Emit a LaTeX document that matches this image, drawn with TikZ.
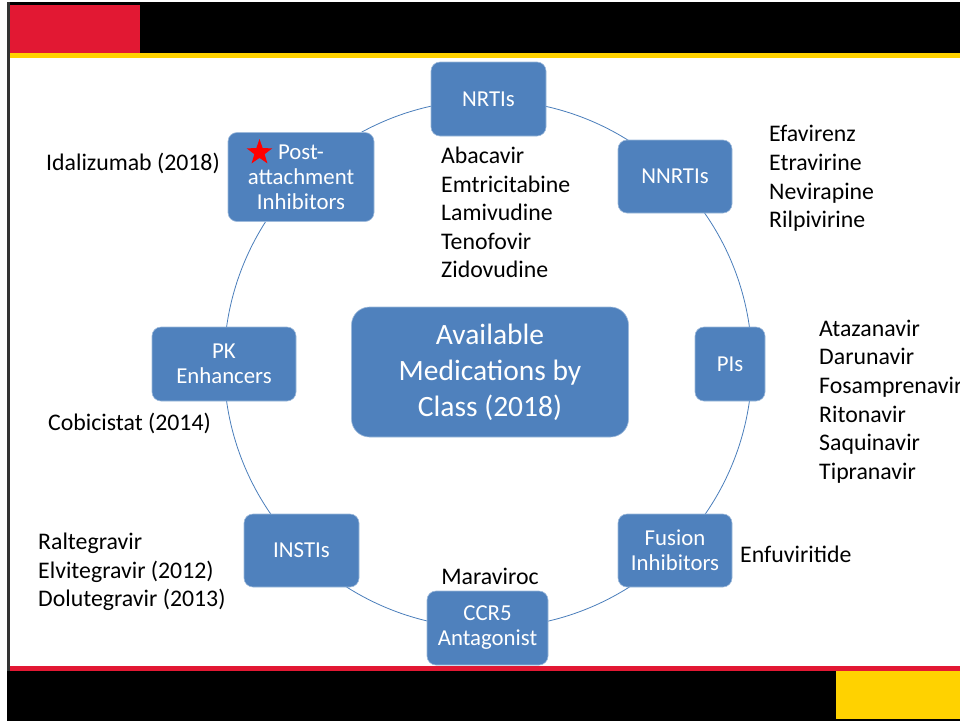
\documentclass[tikz,border=0pt]{standalone}
\usepackage{fontspec}
\setmainfont{Carlito}
\usetikzlibrary{shapes.geometric}
\definecolor{umdred}{HTML}{E21833}
\definecolor{umdgold}{HTML}{FFD200}
\definecolor{boxblue}{HTML}{4F81BD}
\definecolor{ringblue}{HTML}{4A7EBB}
\begin{document}
\begin{tikzpicture}[x=1pt,y=-1pt,
  classbox/.style={rectangle, rounded corners=9pt, fill=boxblue,
    draw=boxblue!55!white, line width=0.6pt, text=white, align=center,
    font=\fontsize{22.8}{25}\selectfont, inner sep=0pt},
  hubbox/.style={classbox, rounded corners=18pt,
    font=\fontsize{29.5}{36}\selectfont},
  druglist/.style={align=left, anchor=west, inner sep=0pt,
    font=\fontsize{23.8}{28.6}\selectfont},
  ring/.style={draw=ringblue, line width=0.8pt}]
\useasboundingbox (0,0) rectangle (960,721);
\fill[white] (0,0) rectangle (960,721);

% slide frame: header, footer and left rule
\fill[black] (7,2) rectangle (960,53);
\fill[umdred] (10,5) rectangle (140,53);
\fill[umdgold] (10,53) rectangle (960,58);
\fill[black!80] (7,2) rectangle (9.5,671);
\fill[umdred] (10,666) rectangle (960,671);
\fill[black] (7,671) rectangle (960,721);
\fill[umdgold] (836,671) rectangle (960,719);

% ring linking the drug classes
\coordinate (hub) at (488,364);
\draw[ring] (hub) circle[radius=264];

% centre
\node[hubbox, minimum width=277pt, minimum height=130pt] (center) at (490,372)
  {Available\\Medications by\\Class (2018)};

% drug classes around the ring
\node[classbox, minimum width=115pt, minimum height=74pt] (nrti) at (488.5,99) {NRTIs};
\node[classbox, minimum width=114pt, minimum height=73pt] (nnrti) at (675,176.5) {NNRTIs};
\node[classbox, minimum width=70pt, minimum height=74pt] (pi) at (730,364) {PIs};
\node[classbox, minimum width=114pt, minimum height=73pt] (fusion) at (675,550.5) {Fusion\\Inhibitors};
\node[classbox, minimum width=121pt, minimum height=74pt] (ccr5) at (487.5,628) {CCR5\\Antagonist};
\node[classbox, minimum width=115pt, minimum height=73pt] (insti) at (301.5,550.5) {INSTIs};
\node[classbox, minimum width=144pt, minimum height=74pt] (pk) at (224,364) {PK\\Enhancers};
\node[classbox, minimum width=146pt, minimum height=89pt] (post) at (301,177) {Post-\\attachment\\Inhibitors};
\node[star, star points=5, star point ratio=2.5, fill=red, minimum size=27pt, inner sep=0pt] (newmark) at (259.5,152.5) {};

% agents in each class
\node[druglist] (nrtidrugs) at (441,212.5) {Abacavir\\Emtricitabine\\Lamivudine\\Tenofovir\\Zidovudine};
\node[druglist] (nnrtidrugs) at (769,178.5) {Efavirenz\\Etravirine\\Nevirapine\\Rilpivirine};
\node[druglist] (pidrugs) at (819,401.5) {Atazanavir\\Darunavir\\Fosamprenavir\\Ritonavir\\Saquinavir\\Tipranavir};
\node[druglist] (fusiondrugs) at (740,554) {Enfuviritide};
\node[druglist, anchor=center] (ccr5drugs) at (490,576) {Maraviroc};
\node[druglist] (instidrugs) at (38,572) {Raltegravir\\Elvitegravir (2012)\\Dolutegravir (2013)};
\node[druglist] (pkdrugs) at (48,423) {Cobicistat (2014)};
\node[druglist] (postdrugs) at (46,163) {Idalizumab (2018)};
\end{tikzpicture}
\end{document}
